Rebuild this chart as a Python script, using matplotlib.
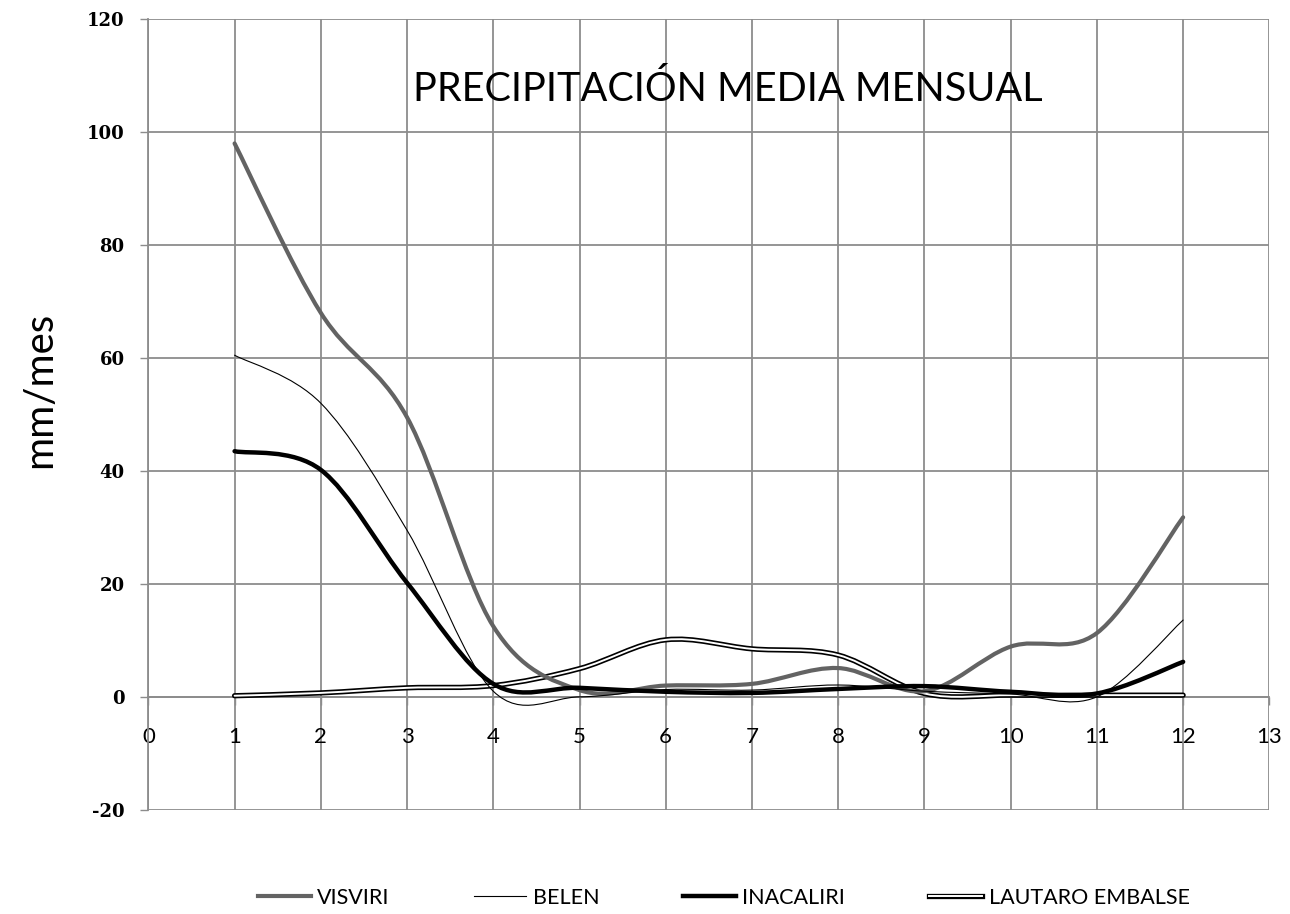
import numpy as np
import matplotlib
matplotlib.use('Agg')
import matplotlib.pyplot as plt
from matplotlib.path import Path
from matplotlib.patches import PathPatch
from matplotlib.lines import Line2D

plt.rcParams['axes.unicode_minus'] = False

# monthly mean precipitation (mm/mes)
months = [1, 2, 3, 4, 5, 6, 7, 8, 9, 10, 11, 12]
visviri = [98.0, 68.0, 49.5, 12.5, 1.2, 2.0, 2.3, 5.1, 1.0, 8.9, 11.3, 31.8]
belen = [60.5, 52.0, 29.5, 1.0, 0.0, 1.3, 1.2, 2.1, 1.0, 0.5, 0.0, 13.6]
inacaliri = [43.5, 40.2, 20.2, 2.3, 1.6, 0.9, 0.7, 1.4, 1.9, 0.9, 0.6, 6.2]
lautaro = [0.2, 0.7, 1.6, 2.0, 5.0, 10.1, 8.5, 7.4, 0.6, 0.3, 0.3, 0.3]
names = ['VISVIRI', 'BELEN', 'INACALIRI', 'LAUTARO EMBALSE']

txt_font = ['Lato', 'DejaVu Sans']


def smooth_path(xs, ys):
    # excel-like smoothed line: cubic bezier through the points
    p = np.column_stack([xs, ys]).astype(float)
    ext = np.vstack([p[0], p, p[-1]])
    verts = [p[0]]
    codes = [Path.MOVETO]
    for i in range(len(p) - 1):
        p0, p1, p2, p3 = ext[i], ext[i + 1], ext[i + 2], ext[i + 3]
        c1 = p1 + (p2 - p0) / 6.0
        c2 = p2 - (p3 - p1) / 6.0
        verts += [c1, c2, p2]
        codes += [Path.CURVE4] * 3
    return Path(verts, codes)


def add_line(ax, xs, ys, color, lw, z):
    ax.add_patch(PathPatch(smooth_path(xs, ys), fill=False, edgecolor=color,
                           lw=lw, zorder=z, capstyle='round', joinstyle='round'))


fig = plt.figure(figsize=(12.9, 9.14), dpi=100)
ax = fig.add_axes([0.115, 0.114, 0.869, 0.865])

add_line(ax, months, lautaro, 'black', 3.8, 3)
add_line(ax, months, lautaro, 'white', 1.4, 3.1)
add_line(ax, months, visviri, '#636363', 3.0, 4)
add_line(ax, months, belen, 'black', 0.8, 5)
add_line(ax, months, inacaliri, 'black', 3.2, 6)

ax.set_xlim(0, 13)
ax.set_ylim(-20, 120)
ax.set_xticks(range(0, 14))
ax.set_yticks(range(-20, 121, 20))
ax.grid(True, color='#8c8c8c', lw=1.3)
ax.set_axisbelow(True)

for s in ['top', 'right']:
    ax.spines[s].set_visible(False)
ax.spines['left'].set_color('#8c8c8c')
ax.spines['left'].set_linewidth(1.3)
ax.spines['bottom'].set_position(('data', 0))
ax.spines['bottom'].set_color('#8c8c8c')
ax.spines['bottom'].set_linewidth(1.3)
ax.spines['bottom'].set_bounds(0, 13)

ax.tick_params(axis='y', length=6, width=1, color='#8c8c8c', pad=11)
ax.tick_params(axis='x', length=6, width=1, color='#8c8c8c', pad=16)
for lab in ax.get_yticklabels():
    lab.set_family('DejaVu Serif')
    lab.set_weight('bold')
    lab.set_fontsize(13)
for lab in ax.get_xticklabels():
    lab.set_family(txt_font)
    lab.set_fontsize(16)

ax.text(6.72, 107.6, 'PRECIPITACIÓN MEDIA MENSUAL', ha='center', va='center',
        fontsize=28.5, family=txt_font)
fig.text(0.031, 0.573, 'mm/mes', rotation=90, ha='center', va='center',
         fontsize=29, family=txt_font)

handles = [
    Line2D([], [], color='#636363', lw=3.0),
    Line2D([], [], color='black', lw=0.8),
    Line2D([], [], color='black', lw=3.2),
    (Line2D([], [], color='black', lw=3.8), Line2D([], [], color='white', lw=1.4)),
]
fig.legend(handles, names, loc='center', bbox_to_anchor=(0.561, 0.018), ncol=4,
           frameon=False, handlelength=2.45, handletextpad=0.3, columnspacing=3.9,
           prop={'family': txt_font, 'size': 15.5})

fig.savefig('out.png', dpi=100)
